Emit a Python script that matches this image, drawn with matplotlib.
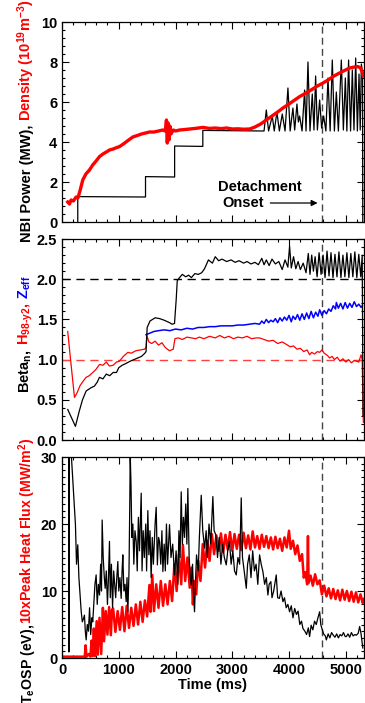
import numpy as np
import matplotlib
matplotlib.use("Agg")
import matplotlib.pyplot as plt
from matplotlib.ticker import MultipleLocator

plt.rcParams['font.family'] = ['Liberation Sans', 'DejaVu Sans']
plt.rcParams['font.weight'] = 'bold'
plt.rcParams['mathtext.fontset'] = 'custom'
plt.rcParams['mathtext.rm'] = 'Liberation Sans:bold'
plt.rcParams['mathtext.it'] = 'Liberation Sans:bold'
plt.rcParams['mathtext.bf'] = 'Liberation Sans:bold'
plt.rcParams['mathtext.default'] = 'rm'

# ---- data: (time ms, value) ----
onset_t = 4590

# panel 1: NBI power (MW)
nbi = [(277, 0), (277, 1.27), (1471, 1.25), (1471, 2.27), (1984, 2.25), (1984, 3.80),
       (2481, 3.78), (2481, 4.58), (3560, 4.55), (3600, 5.6), (3640, 4.55), (3705, 5.3),
       (3740, 4.55), (3787, 5.5), (3830, 4.55), (3881, 5.4), (3930, 4.55), (3981, 6.7),
       (4020, 4.55), (4069, 5.7), (4100, 4.6), (4140, 5.9), (4165, 5.0), (4187, 5.3),
       (4230, 4.55), (4275, 6.6), (4300, 4.55), (4334, 8.0), (4370, 4.55), (4410, 6.4),
       (4440, 4.6), (4469, 7.3), (4500, 4.6), (4540, 6.1), (4575, 4.7), (4610, 5.3),
       (4650, 4.55), (4687, 7.2), (4725, 4.55), (4763, 8.1), (4800, 4.55), (4834, 6.5),
       (4870, 4.55), (4922, 8.1), (4958, 4.6), (4993, 7.2), (5020, 4.55), (5050, 8.1),
       (5085, 4.55), (5116, 7.6), (5145, 4.6), (5175, 8.2), (5205, 4.55), (5234, 7.4),
       (5255, 4.6), (5275, 7.9), (5295, 7.5), (5300, 0.0)]

# panel 1: line-averaged density (1e19 m^-3)
dens = [(100, 1.0), (130, 0.9), (160, 1.1), (200, 1.05), (248, 1.25), (280, 1.2), (320, 1.6),
        (365, 2.1), (420, 2.4), (483, 2.6), (540, 2.85), (600, 3.05), (660, 3.27), (720, 3.4),
        (780, 3.5), (836, 3.6), (900, 3.65), (960, 3.72), (1012, 3.77), (1080, 3.9),
        (1150, 4.05), (1247, 4.25), (1320, 4.32), (1400, 4.4), (1470, 4.45), (1541, 4.5),
        (1620, 4.5), (1700, 4.55), (1776, 4.6), (1820, 4.55), (1840, 5.1), (1855, 3.95),
        (1870, 4.95), (1885, 4.1), (1900, 4.8), (1920, 4.4), (1960, 4.6), (2000, 4.55),
        (2070, 4.6), (2150, 4.62), (2250, 4.65), (2350, 4.68), (2481, 4.73), (2600, 4.68),
        (2700, 4.7), (2800, 4.67), (2900, 4.7), (3000, 4.65), (3100, 4.66), (3200, 4.64),
        (3305, 4.65), (3400, 4.75), (3500, 4.9), (3600, 5.1), (3700, 5.3), (3800, 5.5),
        (3893, 5.7), (4000, 5.9), (4100, 6.1), (4187, 6.27), (4300, 6.45), (4400, 6.62),
        (4481, 6.77), (4600, 6.95), (4700, 7.12), (4775, 7.27), (4870, 7.42), (4960, 7.55),
        (5069, 7.7), (5150, 7.75), (5216, 7.77), (5260, 7.7), (5290, 7.5), (5310, 7.3)]

# panel 2: normalised beta
beta = [(100, 0.38), (236, 0.17), (300, 0.35), (360, 0.5), (425, 0.61), (510, 0.65),
        (570, 0.67), (620, 0.72), (660, 0.78), (720, 0.76), (780, 0.82), (840, 0.80),
        (900, 0.84), (960, 0.84), (1000, 0.90), (1060, 0.93), (1120, 0.95), (1200, 0.98),
        (1300, 1.01), (1400, 1.04), (1460, 1.08), (1480, 1.10), (1500, 1.40), (1550, 1.48),
        (1640, 1.52), (1720, 1.51), (1800, 1.49), (1894, 1.46), (1940, 1.44), (1982, 1.45),
        (2012, 1.75), (2030, 1.98), (2070, 2.02), (2120, 2.06), (2180, 2.03), (2230, 2.05),
        (2280, 2.02), (2340, 2.07), (2400, 2.06), (2460, 2.08), (2511, 2.13), (2580, 2.24),
        (2650, 2.20), (2700, 2.28), (2760, 2.23), (2820, 2.25), (2900, 2.22), (2980, 2.24),
        (3050, 2.21), (3120, 2.23), (3200, 2.20), (3260, 2.22), (3330, 2.19), (3400, 2.21),
        (3460, 2.18), (3520, 2.26), (3560, 2.18), (3600, 2.24), (3650, 2.17), (3700, 2.25),
        (3760, 2.19), (3820, 2.22), (3880, 2.12), (3930, 2.24), (3980, 2.15), (4010, 2.41),
        (4040, 2.14), (4080, 2.28), (4120, 2.13), (4160, 2.22), (4200, 2.12), (4250, 2.20),
        (4300, 2.08), (4340, 2.32), (4370, 2.06), (4400, 2.30), (4430, 2.10), (4460, 2.28),
        (4495, 2.03), (4530, 2.33), (4565, 2.06), (4600, 2.30), (4635, 2.02), (4670, 2.35),
        (4705, 2.04), (4740, 2.33), (4775, 2.02), (4810, 2.31), (4845, 2.03), (4880, 2.34),
        (4915, 2.02), (4950, 2.30), (4985, 2.03), (5020, 2.33), (5055, 2.02), (5090, 2.32),
        (5125, 2.03), (5160, 2.34), (5195, 2.02), (5230, 2.31), (5265, 2.03), (5290, 2.30),
        (5305, 0.3)]

# panel 2: H98-y2 confinement factor
h98 = [(100, 1.35), (150, 1.0), (219, 0.53), (260, 0.58), (320, 0.68), (380, 0.74),
       (425, 0.78), (480, 0.80), (541, 0.84), (600, 0.88), (660, 0.94), (720, 0.93),
       (780, 0.97), (835, 0.92), (900, 0.93), (960, 0.97), (1012, 0.98), (1080, 1.04),
       (1160, 1.09), (1220, 1.08), (1300, 1.11), (1380, 1.12), (1453, 1.13), (1480, 1.15),
       (1495, 1.30), (1530, 1.22), (1580, 1.20), (1640, 1.23), (1700, 1.18), (1760, 1.21),
       (1820, 1.15), (1894, 1.11), (1960, 1.13), (1990, 1.26), (2050, 1.27), (2120, 1.25),
       (2200, 1.28), (2280, 1.27), (2350, 1.26), (2420, 1.28), (2500, 1.26), (2600, 1.29),
       (2700, 1.27), (2780, 1.30), (2860, 1.27), (2940, 1.29), (3020, 1.26), (3100, 1.28),
       (3180, 1.27), (3260, 1.29), (3340, 1.26), (3420, 1.27), (3481, 1.27), (3560, 1.25),
       (3640, 1.23), (3720, 1.24), (3800, 1.20), (3880, 1.22), (3952, 1.19), (4020, 1.16),
       (4080, 1.17), (4140, 1.13), (4200, 1.14), (4260, 1.10), (4320, 1.12), (4363, 1.06),
       (4400, 1.09), (4450, 1.07), (4500, 1.10), (4540, 1.09), (4580, 1.12), (4620, 1.08),
       (4680, 1.05), (4716, 1.02), (4760, 1.04), (4800, 1.00), (4850, 1.03), (4900, 0.98),
       (4950, 1.01), (5000, 0.97), (5050, 1.00), (5100, 0.96), (5150, 0.99), (5187, 0.98),
       (5230, 0.97), (5270, 1.06), (5290, 1.0), (5310, 0.22)]

# panel 2: Zeff
zeff = [(1480, 1.31), (1550, 1.33), (1620, 1.35), (1700, 1.36), (1800, 1.37), (1900, 1.36),
        (2000, 1.38), (2100, 1.37), (2200, 1.39), (2300, 1.38), (2400, 1.40), (2500, 1.40),
        (2600, 1.41), (2700, 1.41), (2800, 1.42), (2900, 1.42), (3000, 1.42), (3100, 1.43),
        (3200, 1.43), (3300, 1.44), (3400, 1.45), (3481, 1.44), (3520, 1.48), (3560, 1.45),
        (3600, 1.50), (3640, 1.46), (3680, 1.49), (3720, 1.47), (3760, 1.51), (3800, 1.46),
        (3840, 1.52), (3880, 1.48), (3920, 1.53), (3960, 1.49), (4000, 1.55), (4040, 1.47),
        (4070, 1.54), (4110, 1.50), (4150, 1.56), (4190, 1.49), (4230, 1.57), (4270, 1.50),
        (4310, 1.58), (4350, 1.51), (4390, 1.60), (4430, 1.52), (4470, 1.59), (4510, 1.54),
        (4540, 1.62), (4580, 1.55), (4620, 1.61), (4660, 1.57), (4700, 1.63), (4740, 1.60),
        (4780, 1.67), (4820, 1.63), (4834, 1.71), (4870, 1.64), (4910, 1.70), (4950, 1.63),
        (4990, 1.71), (5030, 1.64), (5070, 1.70), (5110, 1.65), (5150, 1.72), (5190, 1.66),
        (5230, 1.69), (5270, 1.65), (5290, 1.67)]

# panel 3: Te at outer strike point (eV)
te = [(100, 30.5), (118, 30.5), (120, 0.9), (125, 30.5), (162, 30.5), (200, 25), (236, 19.9),
      (255, 14), (277, 16.9), (297, 12), (317, 9.4), (337, 7), (357, 5.4), (375, 5.8),
      (395, 6.4), (410, 4), (425, 2.7), (445, 5), (465, 4), (485, 7.5), (505, 3.5), (525, 6),
      (541, 5.4), (560, 8), (580, 11), (601, 12.4), (620, 8), (640, 11), (660, 9.4), (680, 14),
      (695, 10), (707, 20.6), (725, 15), (745, 12), (760, 10.4), (780, 13), (800, 8), (818, 12),
      (836, 17.4), (850, 9), (870, 14), (890, 7.5), (910, 13), (924, 11.4), (945, 9), (965, 12),
      (983, 14.4), (1000, 10), (1020, 12), (1042, 8.9), (1058, 13), (1071, 15.4), (1090, 10),
      (1110, 11), (1130, 8.4), (1145, 12), (1160, 6.9), (1180, 13), (1195, 24), (1201, 30.5),
      (1215, 26), (1230, 18), (1248, 20), (1265, 14), (1285, 19), (1307, 17.4), (1325, 13),
      (1345, 21), (1365, 16), (1395, 24.6), (1410, 13), (1430, 19), (1450, 15), (1475, 20),
      (1490, 13), (1512, 22), (1530, 15.4), (1550, 19), (1570, 12), (1590, 18), (1610, 14),
      (1640, 20), (1659, 22.5), (1680, 13.9), (1700, 18), (1718, 17.4), (1740, 14), (1760, 19),
      (1777, 12.9), (1800, 17), (1820, 13), (1840, 20), (1860, 14), (1894, 19.9), (1920, 15),
      (1950, 17), (1982, 12.4), (2010, 16), (2040, 11), (2060, 19), (2080, 15), (2100, 24.8),
      (2120, 17), (2140, 21), (2159, 18), (2180, 23), (2200, 17), (2217, 25.3), (2240, 15),
      (2260, 12), (2276, 10.9), (2300, 14), (2320, 9), (2335, 6.9), (2350, 11), (2370, 15.4),
      (2400, 13), (2420, 18), (2453, 24.3), (2480, 19), (2512, 16.4), (2540, 19), (2560, 15),
      (2590, 20), (2620, 17), (2658, 24.1), (2680, 19), (2710, 18.4), (2740, 15), (2770, 18),
      (2800, 14), (2830, 17), (2860, 15), (2894, 13.9), (2920, 16), (2950, 17.4), (2980, 14),
      (3010, 16), (3040, 13), (3070, 12.4), (3100, 15), (3130, 14), (3158, 23.9), (3180, 15),
      (3210, 13), (3247, 10.4), (3270, 14), (3300, 15.4), (3330, 12), (3360, 16), (3390, 13),
      (3420, 14), (3450, 11), (3481, 15.4), (3510, 14), (3540, 12.9), (3570, 11), (3600, 12),
      (3628, 9.4), (3650, 11), (3680, 11.4), (3700, 9), (3730, 10), (3775, 12.4), (3800, 9),
      (3830, 8.9), (3860, 10), (3893, 8.4), (3920, 9), (3950, 7.5), (3980, 8), (4010, 6.9),
      (4040, 7.8), (4070, 6), (4100, 7.4), (4130, 6.5), (4160, 7), (4190, 5), (4220, 5.5),
      (4246, 4.4), (4280, 4), (4310, 3.5), (4340, 4.5), (4363, 3.2), (4390, 4.9), (4420, 4.2),
      (4450, 5.5), (4480, 5), (4510, 6), (4540, 6.9), (4560, 5), (4580, 4.4), (4610, 3.6),
      (4640, 3.3), (4658, 2.7), (4690, 3.6), (4720, 3.0), (4750, 3.8), (4780, 3.4), (4810, 3.1),
      (4840, 3.6), (4870, 3.0), (4900, 3.5), (4930, 3.3), (4960, 3.8), (4990, 3.2), (5010, 3.2),
      (5040, 3.6), (5070, 3.1), (5100, 3.8), (5130, 3.3), (5160, 3.5), (5187, 3.4), (5220, 3.7),
      (5245, 4.7), (5270, 3.6), (5300, 1.5)]

# panel 3: 10 x peak divertor heat flux (MW/m^2)
qpk = [(0, 0.2), (400, 0.2), (415, 1.9), (430, 0.2), (470, 0.6), (500, 0.2), (520, 2.6),
       (540, 0.3), (560, 4.4), (580, 0.3), (610, 5.5), (630, 0.5), (660, 6.0), (690, 0.6),
       (700, 3.0), (720, 7.5), (740, 2.5), (770, 7.0), (800, 3.5), (830, 7.6), (860, 3.4),
       (880, 7.2), (900, 7.4), (940, 3.9), (980, 7.0), (1020, 4.2), (1060, 7.6), (1100, 4.0),
       (1140, 7.8), (1180, 4.5), (1220, 7.5), (1260, 4.8), (1300, 8.0), (1340, 5.0), (1380, 8.4),
       (1420, 5.4), (1460, 8.6), (1500, 6.2), (1540, 10.9), (1560, 6.9), (1590, 12.4),
       (1620, 7.0), (1660, 11.0), (1700, 7.5), (1740, 11.5), (1780, 7.8), (1820, 11.0),
       (1860, 8.0), (1900, 11.5), (1940, 8.5), (1980, 14.0), (2020, 10.0), (2060, 15.5),
       (2100, 11.0), (2130, 16.9), (2170, 11.5), (2210, 15.0), (2250, 10.5), (2280, 13.5),
       (2306, 8.0), (2330, 11.5), (2365, 9.5), (2400, 14.5), (2440, 11.5), (2480, 17.0),
       (2520, 13.5), (2560, 17.5), (2600, 14.5), (2640, 18.5), (2680, 15.5), (2720, 18.3),
       (2760, 16.0), (2800, 18.6), (2840, 15.8), (2880, 18.4), (2920, 16.2), (2960, 18.8),
       (3000, 16.0), (3040, 18.5), (3080, 16.3), (3120, 18.4), (3160, 16.1), (3200, 18.7),
       (3240, 16.4), (3280, 18.3), (3320, 16.2), (3360, 18.9), (3400, 16.5), (3440, 18.2),
       (3480, 16.3), (3520, 18.4), (3560, 16.6), (3600, 18.2), (3640, 16.4), (3680, 18.0),
       (3720, 16.2), (3760, 18.1), (3800, 16.4), (3840, 17.8), (3880, 16.0), (3920, 18.0),
       (3960, 16.5), (4000, 19.0), (4030, 16.3), (4070, 17.5), (4110, 15.5), (4150, 16.8),
       (4190, 14.5), (4230, 15.5), (4260, 12.0), (4290, 12.8), (4320, 11.0), (4334, 18.2),
       (4345, 11.2), (4380, 12.3), (4420, 10.8), (4460, 12.5), (4500, 11.0), (4540, 11.6),
       (4580, 9.5), (4620, 10.8), (4660, 9.2), (4700, 10.4), (4740, 8.9), (4780, 10.3),
       (4820, 8.8), (4860, 10.1), (4900, 8.6), (4940, 10.2), (4980, 8.7), (5020, 10.0),
       (5060, 8.5), (5100, 9.9), (5140, 8.4), (5180, 9.8), (5220, 8.3), (5260, 9.5),
       (5300, 8.2), (5320, 8.8)]


def xy(pairs):
    a = np.array(pairs, dtype=float)
    return a[:, 0], a[:, 1]


def style_axis(ax, ymax, ymaj, ymin, fmt, show_x):
    ax.set_xlim(0, 5320)
    ax.set_ylim(0, ymax)
    ax.xaxis.set_major_locator(MultipleLocator(1000))
    ax.xaxis.set_minor_locator(MultipleLocator(200))
    ax.yaxis.set_major_locator(MultipleLocator(ymaj))
    ax.yaxis.set_minor_locator(MultipleLocator(ymin))
    ax.tick_params(which='both', direction='in', top=True, right=True, width=0.8, labelsize=10.5)
    ax.tick_params(which='major', length=5)
    ax.tick_params(which='minor', length=2.5)
    ax.yaxis.set_major_formatter(plt.FormatStrFormatter(fmt))
    if not show_x:
        ax.tick_params(labelbottom=False)
    for sp in ax.spines.values():
        sp.set_linewidth(0.9)
    ax.axvline(onset_t, color='#444444', lw=1, ls=(0, (5, 3)))


def color_label(fig, pieces, x_px, yc_px, size=10.5):
    # rotated y-label made of several coloured pieces
    W, H = fig.get_size_inches() * fig.dpi
    texts = [fig.text(0, 0, s, color=c, rotation=90, rotation_mode='anchor',
                      ha='left', va='baseline', fontsize=size, fontweight='bold')
             for s, c in pieces]
    fig.canvas.draw()
    r = fig.canvas.get_renderer()
    lens = [t.get_window_extent(r).height for t in texts]
    y = (H - yc_px) - sum(lens) / 2
    for t, l in zip(texts, lens):
        t.set_position((x_px / W, y / H))
        y += l


fig = plt.figure(figsize=(3.65, 7.03), dpi=100)
ax1 = fig.add_axes([0.170, 0.6842, 0.827, 0.2845])
ax2 = fig.add_axes([0.170, 0.3741, 0.827, 0.2859])
ax3 = fig.add_axes([0.170, 0.0640, 0.827, 0.2859])

# panel 1
style_axis(ax1, 10, 2, 0.4, '%d', False)
ax1.plot(*xy(nbi), color='black', lw=0.9)
ax1.plot(*xy(dens), color='red', lw=2.4)
ax1.text(3481, 1.77, 'Detachment', ha='center', va='center', fontsize=10.5, fontweight='bold')
ax1.annotate('Onset', xy=(4504, 0.95), xytext=(3183, 0.95), ha='center', va='center',
             fontsize=10.5, fontweight='bold',
             arrowprops=dict(arrowstyle='-|>', color='black', lw=0.9, mutation_scale=9,
                             shrinkA=3, shrinkB=0))

# panel 2
style_axis(ax2, 2.5, 0.5, 0.1, '%.1f', False)
ax2.axhline(2.0, color='black', lw=1, ls=(0, (6, 4)))
ax2.axhline(1.0, color='#ff4040', lw=1, ls=(0, (6, 4)))
ax2.plot(*xy(zeff), color='blue', lw=1.1)
ax2.plot(*xy(h98), color='red', lw=0.9)
ax2.plot(*xy(beta), color='black', lw=0.9)

# panel 3
style_axis(ax3, 30, 10, 1, '%d', True)
ax3.plot(*xy(qpk), color='red', lw=1.8)
ax3.plot(*xy(te), color='black', lw=0.9)
ax3.set_xlabel('Time (ms)', fontsize=10.5, fontweight='bold', labelpad=1)

color_label(fig, [('NBI Power (MW),', 'black'),
                  (' Density (10$^{19}$m$^{-3}$)', 'red')], 31, 121)
color_label(fig, [('Beta$_{n}$,', 'black'),
                  (' H$_{\\text{98-y2}}$,', 'red'),
                  (' Z$_{eff}$', 'blue')], 28.5, 334)
color_label(fig, [('T$_{e}$OSP (eV),', 'black'),
                  ('10xPeak Heat Flux (MW/m$^{2}$)', 'red')], 32, 571, size=10.2)

fig.savefig('out.png', dpi=100)
